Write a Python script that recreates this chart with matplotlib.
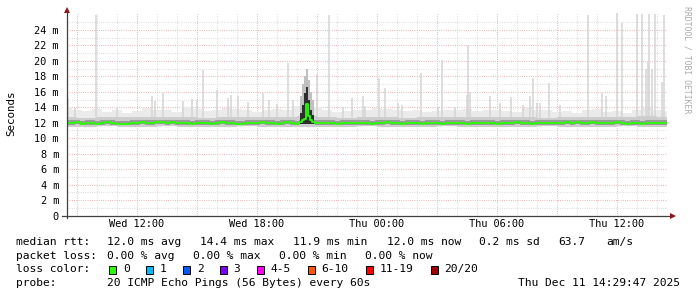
import matplotlib
matplotlib.use("Agg")
import matplotlib.pyplot as plt
from matplotlib.patches import Rectangle
import numpy as np

W, H = 697, 297

# time axis in hours since Wed 00:00
t_start = 8.5
t_end = 38.5

x_tick_hours = [12, 18, 24, 30, 36]
x_tick_labels = ["Wed 12:00", "Wed 18:00", "Thu 00:00", "Thu 06:00", "Thu 12:00"]
y_tick_ms = [0, 2, 4, 6, 8, 10, 12, 14, 16, 18, 20, 22, 24]
y_tick_labels = ["0", "2 m", "4 m", "6 m", "8 m", "10 m", "12 m", "14 m",
                 "16 m", "18 m", "20 m", "22 m", "24 m"]

# median rtt (ms), one value every 15 min from 08:30
median_ms = [
    12.0, 12.0, 12.1, 11.9, 12.0, 12.0, 11.9, 12.0, 12.1, 12.0, 11.9, 11.9,
    11.9, 12.0, 12.0, 12.1, 12.0, 12.0, 12.1, 12.1, 12.0, 12.1, 12.0, 12.0,
    12.0, 11.9, 12.0, 12.0, 12.0, 11.9, 12.0, 12.1, 12.0, 12.0, 11.9, 11.9,
    12.0, 12.0, 12.0, 12.1, 12.0, 12.0, 11.9, 12.0, 12.1, 12.0, 11.9, 12.0,
    12.1, 12.0, 12.0, 12.0, 12.0, 12.0, 11.9, 12.0, 12.0, 12.0, 12.0, 12.0,
    12.0, 11.9, 12.0, 12.0, 12.1, 12.0, 12.0, 11.9, 12.0, 12.0, 12.0, 11.9,
    12.0, 12.0, 12.0, 11.9, 12.0, 12.0, 12.0, 12.0, 11.9, 12.0, 12.0, 12.0,
    12.0, 12.0, 11.9, 12.0, 12.0, 12.0, 12.1, 12.0, 12.0, 11.9, 12.0, 12.0,
    12.0, 12.0, 12.0, 12.0, 12.1, 12.0, 12.1, 12.0, 12.0, 12.1, 12.0, 12.0,
    12.0, 12.0, 12.1, 12.0, 11.9, 12.0, 12.0, 11.9, 12.0, 12.0, 12.0, 12.0,
    12.0,
]

# the short latency bump around 20:30
evt_hours = [20.20, 20.30, 20.40, 20.50, 20.60, 20.70, 20.80]
evt_median = [12.1, 12.3, 12.5, 14.4, 12.9, 12.3, 12.1]
evt_dark_top = [13.3, 14.3, 15.8, 16.6, 15.0, 13.6, 13.0]
evt_light_top = [15.5, 17.0, 18.0, 19.0, 17.5, 16.0, 15.0]

# smoke band, hourly from 08:30
smoke_lo = [11.5, 11.5, 11.6, 11.5, 11.5, 11.6, 11.5, 11.5, 11.5, 11.6, 11.5,
            11.5, 11.4, 11.5, 11.5, 11.6, 11.5, 11.5, 11.5, 11.6, 11.5, 11.5,
            11.5, 11.5, 11.6, 11.5, 11.5, 11.5, 11.6, 11.5, 11.5]
smoke_mid = [12.7, 12.6, 12.8, 12.7, 12.7, 12.8, 12.7, 12.6, 12.7, 12.7, 12.8,
             12.7, 12.9, 12.7, 12.6, 12.7, 12.7, 12.6, 12.7, 12.7, 12.7, 12.8,
             12.7, 12.7, 12.6, 12.7, 12.7, 12.7, 12.8, 12.9, 12.8]
# light fuzz on top, every 30 min from 08:30
smoke_top = [14.0, 13.6, 13.5, 13.8, 13.4, 13.6, 13.3, 13.5, 13.9, 13.6, 13.7,
             13.4, 14.0, 13.8, 13.5, 13.6, 13.9, 13.8, 13.6, 13.4, 13.7, 13.8,
             13.6, 14.2, 14.5, 14.0, 13.6, 13.4, 13.5, 13.7, 13.6, 13.9, 13.8,
             13.7, 13.5, 13.6, 13.4, 13.5, 13.6, 13.6, 13.8, 13.5, 13.7, 13.6,
             13.5, 13.4, 13.9, 13.6, 13.7, 13.4, 13.5, 13.3, 13.6, 13.8, 13.4,
             13.5, 13.3, 13.7, 13.9, 13.6, 13.5]

# single-ping spikes (hour, top ms)
spike_hours = [8.55, 8.9, 9.94, 11.0, 12.75, 12.9, 13.3, 14.3, 14.75, 15.0,
               15.28, 16.0, 16.55, 16.7, 17.05, 17.55, 18.3, 18.6, 19.0, 19.55,
               19.8, 20.98, 21.6, 22.3, 22.75, 23.3, 23.4, 24.1, 24.4, 25.05,
               25.25, 26.2, 27.05, 27.25, 27.9, 28.5, 28.55, 28.65, 29.65, 30.15,
               30.7, 31.3, 31.65, 31.8, 32.0, 32.15, 32.6, 33.15, 34.55, 35.25,
               35.45, 36.0, 36.25, 37.0, 37.25, 37.45, 37.55, 37.6, 37.75, 37.9,
               38.25, 38.35]
spike_tops = [15.2, 13.9, 25.9, 13.9, 15.5, 14.8, 15.9, 14.8, 15.1, 14.9,
              18.8, 16.2, 15.2, 15.6, 15.5, 14.7, 15.8, 15.0, 14.4, 19.7,
              15.0, 18.3, 25.9, 14.0, 15.2, 15.4, 14.2, 17.8, 16.5, 14.5,
              14.3, 18.4, 14.0, 20.1, 14.0, 15.6, 22.0, 16.0, 15.5, 14.5,
              15.3, 14.3, 15.5, 17.8, 14.6, 14.5, 17.2, 14.3, 25.9, 15.9,
              15.5, 26.2, 24.9, 26.1, 26.1, 19.0, 19.8, 26.1, 19.0, 26.1,
              17.3, 25.9]

loss_labels = ["0", "1", "2", "3", "4-5", "6-10", "11-19", "20/20"]
loss_colors = ["#26ff00", "#00b8ff", "#0059ff", "#7e00ff", "#ff00ff",
               "#ff5500", "#ff0000", "#a10000"]
loss_box_x = [109, 146, 183, 219.5, 256.5, 307.5, 366, 430.5]

rtt_labels = ["12.0 ms avg", "14.4 ms max", "11.9 ms min", "12.0 ms now",
              "0.2 ms sd", "63.7", "am/s"]
rtt_x = [107.3, 200, 293.3, 386.7, 479.3, 558.3, 606.7]
loss_labels_txt = ["0.00 % avg", "0.00 % max", "0.00 % min", "0.00 % now"]
loss_x = [107.3, 193.3, 279.3, 365.3]

MONO = "DejaVu Sans Mono"
plt.rcParams["font.family"] = MONO


def fx(x):
    return x / W


def fy(y):
    return 1 - y / H


fig = plt.figure(figsize=(W / 100, H / 100), dpi=100)
fig.patch.set_facecolor("white")
ax = fig.add_axes([fx(67), fy(215.5), 600 / W, (215.5 - 13) / H])
ax.set_xlim(t_start, t_end)
ax.set_ylim(0, 26.2)
for s in ax.spines.values():
    s.set_visible(False)

dots = (0, (0.7, 1.45))
# grid
for hr in range(9, 39):
    major = hr % 3 == 0
    ax.axvline(hr, color="#eba0a0" if major else "#d2d2d2", lw=0.75,
               ls=dots, zorder=1)
for v in range(1, 26):
    major = v % 2 == 0
    ax.axhline(v, color="#eba0a0" if major else "#d2d2d2", lw=0.75,
               ls=dots, zorder=1)

# smoke
h_hour = t_start + np.arange(len(smoke_lo))
h_half = t_start + 0.5 * np.arange(len(smoke_top))
lo_half = np.repeat(smoke_lo, 2)[:len(smoke_top)]
ax.fill_between(h_half, lo_half, smoke_top, step="mid", color="#ebebeb",
                lw=0, zorder=2)
ax.vlines(spike_hours, 12.0, spike_tops, color="#d4d4d4", lw=1.1, zorder=2)
ax.fill_between(h_hour, smoke_lo, smoke_mid, step="mid", color="#cdcdcd",
                lw=0, zorder=3)

h_med = t_start + 0.25 * np.arange(len(median_ms))
keep = (h_med < evt_hours[0]) | (h_med > evt_hours[-1])
mh = np.concatenate([h_med[keep], evt_hours])
mv = np.concatenate([np.array(median_ms)[keep], evt_median])
order = np.argsort(mh)
mh, mv = mh[order], mv[order]
ax.fill_between(mh, mv - 0.25, mv + 0.3, step="mid", color="#9a9a9a", lw=0,
                zorder=4)
ax.vlines(evt_hours, 11.8, evt_light_top, color="#c0c0c0", lw=1.5, zorder=4)
ax.vlines(evt_hours, 11.8, evt_dark_top, color="#2a2a2a", lw=1.4, zorder=5)
ax.plot(mh, mv, color="#26ff00", lw=1.3, zorder=6, drawstyle="steps-mid")

# ticks
ax.set_xticks(x_tick_hours)
ax.set_xticklabels(x_tick_labels)
ax.set_yticks(y_tick_ms)
ax.set_yticklabels(y_tick_labels)
ax.tick_params(axis="x", length=0, pad=2.6, labelsize=7.4, colors="black")
ax.tick_params(axis="y", length=0, pad=5.8, labelsize=7.4, colors="black")

# axis lines with arrows
axis_col = "#404040"
arrow_col = "#8b1a1a"
ax.plot([t_start - 5 / 20, t_start + 606 / 20], [0, 0], color=axis_col,
        lw=0.9, clip_on=False, zorder=7)
ax.plot([t_start, t_start], [-0.3, 26.2 + 0.5], color=axis_col, lw=0.9,
        clip_on=False, zorder=7)
ax.plot([t_start + 606 / 20], [0], marker=">", color=arrow_col, ms=4.2,
        clip_on=False, zorder=8, mew=0)
ax.plot([t_start], [26.2 + 0.45], marker="^", color=arrow_col, ms=4.2,
        clip_on=False, zorder=8, mew=0)

fig.text(fx(11), fy(113), "Seconds", rotation=90, ha="center", va="center",
         fontsize=7.8)
fig.text(fx(687), fy(60), "RRDTOOL / TOBI OETIKER", rotation=270,
         ha="center", va="center", fontsize=5.9, color="#aaaaaa")

# legend
LS = 8.1
fig.text(fx(16), fy(241.7), "median rtt:", fontsize=LS, va="center")
for lbl, x in zip(rtt_labels, rtt_x):
    fig.text(fx(x), fy(241.7), lbl, fontsize=LS, va="center")
fig.text(fx(16), fy(255.7), "packet loss:", fontsize=LS, va="center")
for lbl, x in zip(loss_labels_txt, loss_x):
    fig.text(fx(x), fy(255.7), lbl, fontsize=LS, va="center")
fig.text(fx(16), fy(269.3), "loss color:", fontsize=LS, va="center")
for lbl, col, x in zip(loss_labels, loss_colors, loss_box_x):
    fig.add_artist(Rectangle((fx(x), fy(273.5)), 7 / W, 8 / H,
                             transform=fig.transFigure, facecolor=col,
                             edgecolor="black", lw=0.7))
    fig.text(fx(x + 14), fy(269.3), lbl, fontsize=LS, va="center")
fig.text(fx(16), fy(283.3), "probe:", fontsize=LS, va="center")
fig.text(fx(107.3), fy(283.3), "20 ICMP Echo Pings (56 Bytes) every 60s",
         fontsize=LS, va="center")
fig.text(fx(680.5), fy(283.3), "Thu Dec 11 14:29:47 2025", fontsize=LS,
         va="center", ha="right")

fig.savefig("out.png", dpi=100, facecolor="white")
